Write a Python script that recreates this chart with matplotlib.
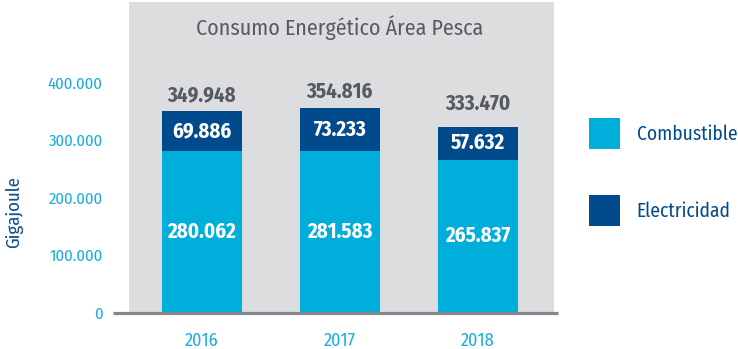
import matplotlib
matplotlib.use("Agg")
from matplotlib import pyplot as plt
from matplotlib.ticker import FuncFormatter

years = ["2016", "2017", "2018"]
combustible = [280062, 281583, 265837]
electricidad = [69886, 73233, 57632]
totales = [349948, 354816, 333470]
yticks = [0, 100000, 200000, 300000, 400000]

CYAN = "#00AEDB"
NAVY = "#014A8B"
BG = "#DCDDDF"
GREY_TXT = "#575A63"

plt.rcParams["font.family"] = ["Fira Sans Condensed", "DejaVu Sans"]


def miles(v):
    # 280062 -> "280.062"
    return f"{int(v):,}".replace(",", ".")


fig = plt.figure(figsize=(7.38, 3.49), dpi=100)
ax = fig.add_axes([129 / 738, (349 - 312.5) / 349, (554 - 129) / 738, 310.5 / 349])
ax.set_facecolor(BG)

x = range(len(years))
w = 0.58
b1 = ax.bar(x, combustible, w, color=CYAN, label="Combustible", zorder=2)
b2 = ax.bar(x, electricidad, w, bottom=combustible, color=NAVY, label="Electricidad", zorder=2)

for i in x:
    c, e = combustible[i], electricidad[i]
    ax.text(i, c / 2, miles(c), ha="center", va="center", color="white",
            fontsize=15, fontweight="bold")
    ax.text(i, c + e / 2, miles(e), ha="center", va="center", color="white",
            fontsize=15, fontweight="bold")
    ax.text(i, totales[i] + 29000, miles(totales[i]), ha="center", va="center",
            color=GREY_TXT, fontsize=15, fontweight="bold")

ax.text(1.0, 496000, "Consumo Energético Área Pesca", ha="center", va="center",
        color=GREY_TXT, fontsize=15.8)

ax.set_xlim(-0.526, 2.55)
ax.set_ylim(0, 540000)
ax.set_yticks(yticks)
ax.yaxis.set_major_formatter(FuncFormatter(lambda v, p: miles(v)))
ax.set_xticks(list(x))
ax.set_xticklabels(years)
ax.tick_params(axis="y", length=0, pad=19, labelsize=12, labelcolor="#1AAEDC")
ax.tick_params(axis="x", length=0, pad=14, labelsize=13, labelcolor="#1AAEDC")
for s in ax.spines.values():
    s.set_visible(False)

# base line runs a bit past the grey panel
ax.plot([-0.642, 2.58], [0, 0], color="#85868E", lw=2.3, clip_on=False, zorder=3,
        solid_capstyle="butt")

fig.text(14 / 738, 1 - 212 / 349, "Gigajoule", rotation=90, ha="center", va="center",
         color="#0D4F8C", fontsize=13.5)

fig.legend(handles=[b1, b2], loc="upper left", bbox_to_anchor=(589 / 738, 1 - 118 / 349),
           frameon=False, fontsize=14, handlelength=1.6, handleheight=2.08,
           labelspacing=2.36, handletextpad=0.85, labelcolor=NAVY, borderpad=0,
           borderaxespad=0)

fig.savefig("out.png", dpi=100)
